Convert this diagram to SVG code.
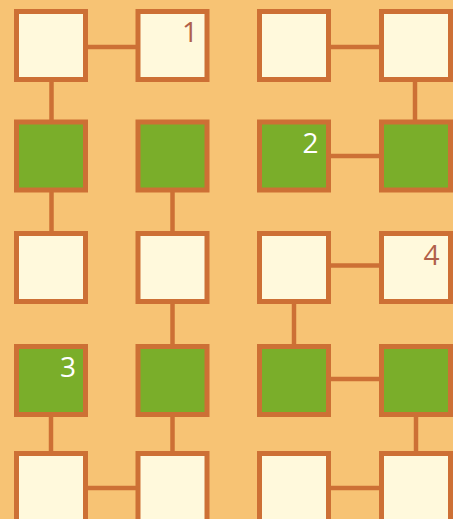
<svg xmlns="http://www.w3.org/2000/svg" width="453" height="519" viewBox="0 0 453 519">
<style>
.c{stroke:#CD7035;stroke-width:4.5;fill:none}
.n{stroke:#CD7035;stroke-width:5}
.w{fill:#FFF9DC}
.g{fill:#7AAE2A}
.t{font-family:"Open Sans","Liberation Sans",sans-serif;font-size:28px;text-anchor:middle}
.tb{fill:#B0604A}
.tw{fill:#FFFFFF}
</style>
<rect width="453" height="519" fill="#F7C374"/>
<g id="connectors">
<line class="c" x1="51" y1="47" x2="172" y2="47"/>
<line class="c" x1="294" y1="47" x2="415" y2="47"/>
<line class="c" x1="51.5" y1="47" x2="51.5" y2="156"/>
<line class="c" x1="415" y1="47" x2="415" y2="156"/>
<line class="c" x1="294" y1="156" x2="415" y2="156"/>
<line class="c" x1="51.5" y1="156" x2="51.5" y2="267"/>
<line class="c" x1="172.5" y1="156" x2="172.5" y2="267"/>
<line class="c" x1="294" y1="265.5" x2="415" y2="265.5"/>
<line class="c" x1="172.5" y1="267" x2="172.5" y2="380"/>
<line class="c" x1="294" y1="267" x2="294" y2="380"/>
<line class="c" x1="294" y1="379" x2="415" y2="379"/>
<line class="c" x1="51" y1="380" x2="51" y2="488"/>
<line class="c" x1="172.5" y1="380" x2="172.5" y2="488"/>
<line class="c" x1="416" y1="380" x2="416" y2="488"/>
<line class="c" x1="51" y1="488" x2="172" y2="488"/>
<line class="c" x1="294" y1="488" x2="415" y2="488"/>
</g>
<g id="n11"><rect class="n w" x="16.5" y="11.5" width="69" height="68"/></g>
<g id="n12"><rect class="n w" x="138" y="11.5" width="69" height="68"/><text class="t tb" x="190" y="42">1</text></g>
<g id="n13"><rect class="n w" x="259.5" y="11.5" width="69" height="68"/></g>
<g id="n14"><rect class="n w" x="381.5" y="11.5" width="69" height="68"/></g>
<g id="n21"><rect class="n g" x="16.5" y="122" width="69" height="68"/></g>
<g id="n22"><rect class="n g" x="138" y="122" width="69" height="68"/></g>
<g id="n23"><rect class="n g" x="259.5" y="122" width="69" height="68"/><text class="t tw" x="310.5" y="153">2</text></g>
<g id="n24"><rect class="n g" x="381.5" y="122" width="69" height="68"/></g>
<g id="n31"><rect class="n w" x="16.5" y="233.5" width="69" height="68"/></g>
<g id="n32"><rect class="n w" x="138" y="233.5" width="69" height="68"/></g>
<g id="n33"><rect class="n w" x="259.5" y="233.5" width="69" height="68"/></g>
<g id="n34"><rect class="n w" x="381.5" y="233.5" width="69" height="68"/><text class="t tb" x="431.5" y="264.5">4</text></g>
<g id="n41"><rect class="n g" x="16.5" y="346.5" width="69" height="68"/><text class="t tw" x="68" y="376.5">3</text></g>
<g id="n42"><rect class="n g" x="138" y="346.5" width="69" height="68"/></g>
<g id="n43"><rect class="n g" x="259.5" y="346.5" width="69" height="68"/></g>
<g id="n44"><rect class="n g" x="381.5" y="346.5" width="69" height="68"/></g>
<g id="n51"><rect class="n w" x="16.5" y="453.5" width="69" height="68"/></g>
<g id="n52"><rect class="n w" x="138" y="453.5" width="69" height="68"/></g>
<g id="n53"><rect class="n w" x="259.5" y="453.5" width="69" height="68"/></g>
<g id="n54"><rect class="n w" x="381.5" y="453.5" width="69" height="68"/></g>
</svg>
